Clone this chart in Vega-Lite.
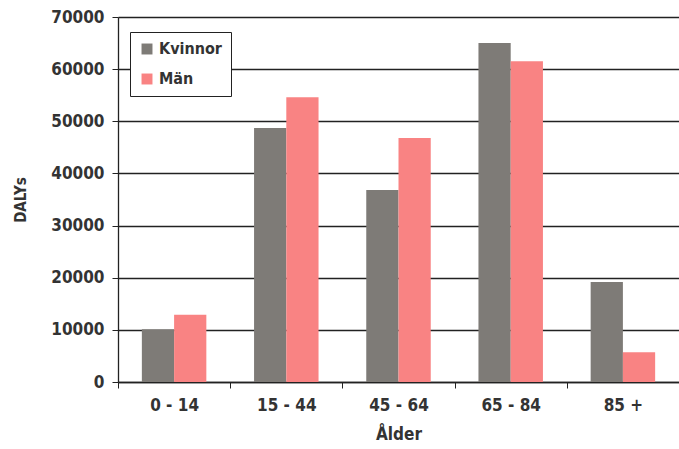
{
  "$schema": "https://vega.github.io/schema/vega-lite/v6.json",
  "autosize": "none",
  "width": 561,
  "height": 365,
  "padding": {"left": 118, "top": 17, "right": 0, "bottom": 67},
  "background": "white",
  "config": {
    "view": {"stroke": null},
    "font": "DejaVu Sans Condensed",
    "axis": {"labelFont": "DejaVu Sans Condensed", "titleFont": "DejaVu Sans Condensed", "labelColor": "#333", "titleColor": "#333", "labelFontWeight": "bold", "titleFontWeight": "bold"}
  },
  "data": {
    "values": [
      {"alder": "0 - 14", "kon": "Kvinnor", "dalys": 10100},
      {"alder": "0 - 14", "kon": "Män", "dalys": 12900},
      {"alder": "15 - 44", "kon": "Kvinnor", "dalys": 48700},
      {"alder": "15 - 44", "kon": "Män", "dalys": 54600},
      {"alder": "45 - 64", "kon": "Kvinnor", "dalys": 36800},
      {"alder": "45 - 64", "kon": "Män", "dalys": 46800},
      {"alder": "65 - 84", "kon": "Kvinnor", "dalys": 65000},
      {"alder": "65 - 84", "kon": "Män", "dalys": 61500},
      {"alder": "85 +", "kon": "Kvinnor", "dalys": 19200},
      {"alder": "85 +", "kon": "Män", "dalys": 5700}
    ]
  },
  "mark": {"type": "bar"},
  "encoding": {
    "x": {
      "field": "alder", "type": "nominal", "sort": null,
      "scale": {"paddingInner": 0, "paddingOuter": 0},
      "axis": {"title": "Ålder", "labelAngle": 0, "labelFontSize": 17, "titleFontSize": 17, "titlePadding": 13, "tickBand": "extent", "domainColor": "#222", "domainWidth": 1.3, "tickColor": "#222", "tickSize": 6, "labelPadding": 9}
    },
    "xOffset": {"field": "kon", "type": "nominal", "scale": {"paddingInner": 0, "paddingOuter": 0.74}},
    "y": {
      "field": "dalys", "type": "quantitative",
      "scale": {"domain": [0, 70000], "nice": false},
      "axis": {"title": "DALYs", "values": [0, 10000, 20000, 30000, 40000, 50000, 60000, 70000], "format": "d", "labelFontSize": 17, "titleFontSize": 15, "titlePadding": 22, "grid": true, "gridColor": "#222", "gridWidth": 1.3, "gridOpacity": 1, "domainColor": "#222", "domainWidth": 1.3, "tickColor": "#222", "tickSize": 6, "labelPadding": 8}
    },
    "color": {
      "field": "kon", "type": "nominal",
      "scale": {"domain": ["Kvinnor", "Män"], "range": ["#7e7b77", "#f98383"]},
      "legend": {"title": null, "orient": "none", "legendX": 12, "legendY": 15, "strokeColor": "#222", "padding": 9, "symbolType": "square", "symbolSize": 120, "labelFontSize": 16, "labelFont": "DejaVu Sans Condensed", "labelFontWeight": "bold", "labelColor": "#333", "rowPadding": 14, "labelOffset": 4, "symbolStrokeWidth": 0, "fillColor": "white"}
    }
  }
}
